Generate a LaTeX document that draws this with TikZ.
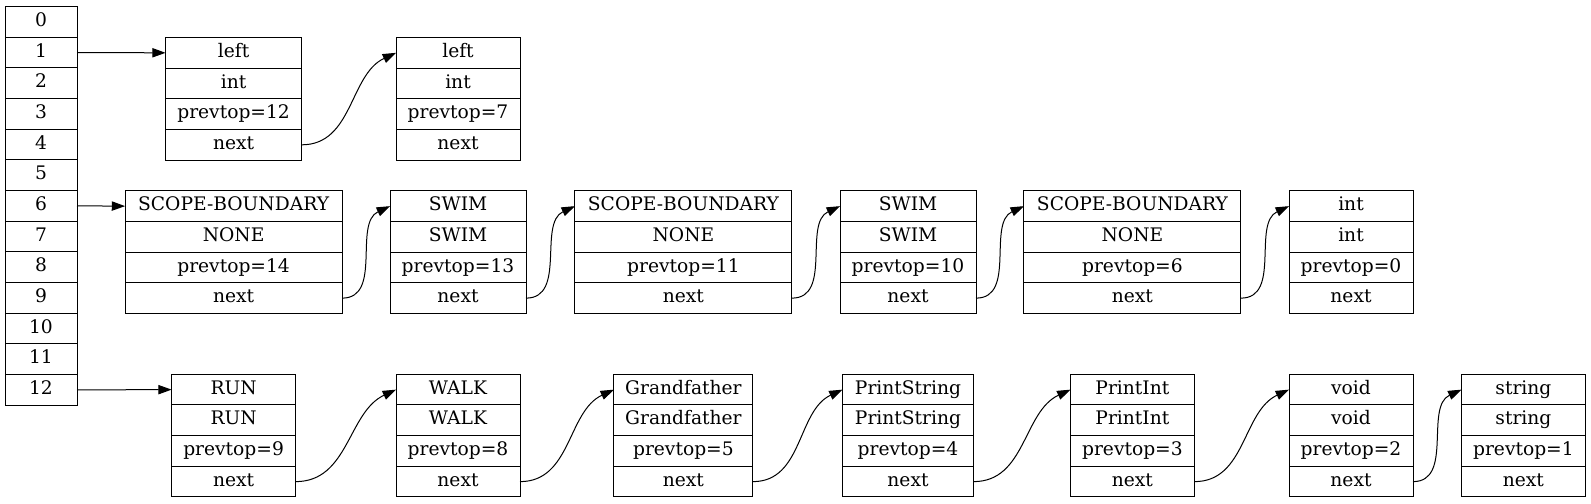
\documentclass[tikz,border=0pt]{standalone}
\usepackage{fontspec}
\setmainfont{DejaVu Serif}
\usetikzlibrary{positioning,arrows.meta}
\tikzset{
	cell/.style={draw,line width=0.75pt,minimum width=54pt,minimum height=23pt,inner sep=0pt,outer sep=0pt,text height=10pt,text depth=3pt,font=\fontsize{14pt}{17pt}\selectfont},
	field/.style={cell,minimum width=#1},
	link/.style={-{Triangle[length=10pt,width=7pt]},line width=0.75pt},
}
\begin{document}
\begin{tikzpicture}[x=0.75pt,y=-0.75pt]
	\useasboundingbox (0,0) rectangle (1591,503);
	\foreach \i in {0,...,12}
		\node[cell] (s\i) at (41,{21.83+30.67*\i}) {\i};
	\foreach \n/\x/\y/\w/\ta/\tb/\tc in {
		lefta/233.6/37.5/136/left/int/prevtop=12,
		leftb/458/37.5/124/left/int/prevtop=7,
		sba/233.6/190.8/217/SCOPE-BOUNDARY/NONE/prevtop=14,
		swima/458/190.8/136/SWIM/SWIM/prevtop=13,
		sbb/683.4/190.8/217/SCOPE-BOUNDARY/NONE/prevtop=11,
		swimb/908/190.8/136/SWIM/SWIM/prevtop=10,
		sbc/1132.4/190.8/217/SCOPE-BOUNDARY/NONE/prevtop=6,
		inta/1351/190.8/124/int/int/prevtop=0,
		run/233.6/374.3/124/RUN/RUN/prevtop=9,
		walk/458/374.3/124/WALK/WALK/prevtop=8,
		grand/683.4/374.3/139/Grandfather/Grandfather/prevtop=5,
		pstr/908/374.3/131/PrintString/PrintString/prevtop=4,
		pint/1132.4/374.3/124/PrintInt/PrintInt/prevtop=3,
		void/1351/374.3/124/void/void/prevtop=2,
		str/1523.4/374.3/124/string/string/prevtop=1}
	{
		\node[field=\w*0.75pt] (\n1) at (\x,{\y+15.33}) {\ta};
		\node[field=\w*0.75pt,below=0pt of \n1] (\n2) {\tb};
		\node[field=\w*0.75pt,below=0pt of \n2] (\n3) {\tc};
		\node[field=\w*0.75pt,below=0pt of \n3] (\n4) {next};
	}
	\draw[link] (s1.east) -- (lefta1.west);
	\draw[link] (s6.east) -- (sba1.west);
	\draw[link] (s12.east) -- (run1.west);
	\foreach \a/\b in {lefta/leftb,sba/swima,swima/sbb,sbb/swimb,swimb/sbc,sbc/inta,run/walk,walk/grand,grand/pstr,pstr/pint,pint/void,void/str}
		\draw[link] (\a4.east) to[out=0,in=205] (\b1.west);
\end{tikzpicture}
\end{document}
